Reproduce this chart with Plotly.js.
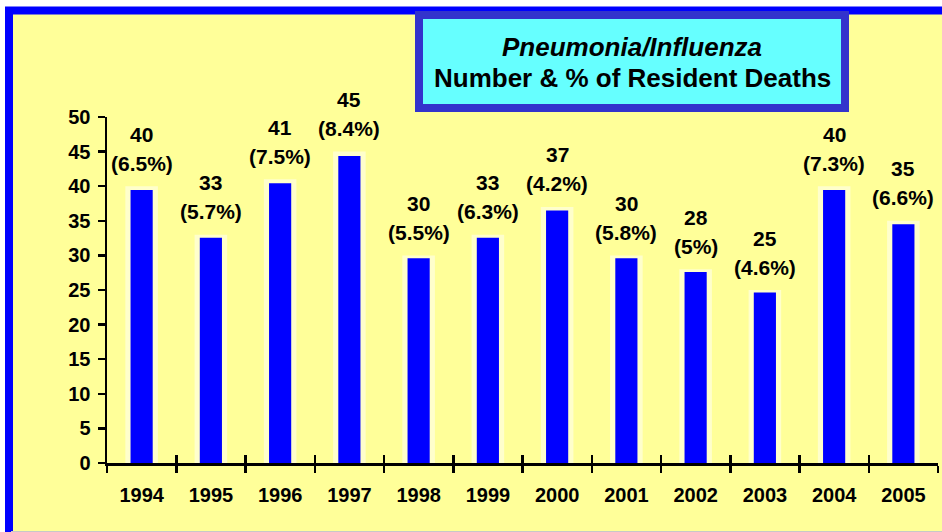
<!DOCTYPE html>
<html>
<head>
<meta charset="utf-8">
<script src="https://cdn.plot.ly/plotly-3.0.1.min.js"></script>
<style>html,body{margin:0;padding:0;background:#fff;}#chart{width:942px;height:532px;}</style>
</head>
<body>
<div id="chart"></div>
<script>
const years = ['1994','1995','1996','1997','1998','1999','2000','2001','2002','2003','2004','2005'];
const deaths = [40, 33, 41, 45, 30, 33, 37, 30, 28, 25, 40, 35];
const pctOfDeaths = [6.5, 5.7, 7.5, 8.4, 5.5, 6.3, 4.2, 5.8, 5, 4.6, 7.3, 6.6];
const yTicks = [0, 5, 10, 15, 20, 25, 30, 35, 40, 45, 50];
const titleLines = ['Pneumonia/Influenza', 'Number & % of Resident Deaths'];

const FONT = 'Liberation Sans, Arial, sans-serif';
const BLUE = '#0000FF';
const YELLOW = '#FFFF99';
const HALO = '#FFFFCC';

const halo = {
  type: 'bar', x: years, y: deaths, xaxis: 'x', yaxis: 'y',
  width: 0.47, marker: {color: HALO, line: {width: 0}}, hoverinfo: 'skip'
};
const bars = {
  type: 'bar', x: years, y: deaths, xaxis: 'x2', yaxis: 'y2',
  width: 0.32, marker: {color: BLUE, line: {width: 0}}, hoverinfo: 'skip'
};

const annotations = [];
years.forEach((yr, i) => {
  annotations.push({
    x: i, y: deaths[i], xref: 'x', yref: 'y', xanchor: 'center', yanchor: 'middle', yshift: 52,
    text: String(deaths[i]), showarrow: false,
    font: {family: FONT, size: 21, color: '#000', weight: 700}
  });
  annotations.push({
    x: i, y: deaths[i], xref: 'x', yref: 'y', xanchor: 'center', yanchor: 'middle', yshift: 23,
    text: '(' + pctOfDeaths[i] + '%)', showarrow: false,
    font: {family: FONT, size: 21, color: '#000', weight: 700}
  });
});
annotations.push({
  x: 0.6318, y: 1.2023, xref: 'paper', yref: 'paper', xanchor: 'center', yanchor: 'middle',
  text: '<i>' + titleLines[0] + '</i>', showarrow: false,
  font: {family: FONT, size: 26, color: '#000', weight: 700}
});
annotations.push({
  x: 0.6318, y: 1.1127, xref: 'paper', yref: 'paper', xanchor: 'center', yanchor: 'middle',
  text: titleLines[1], showarrow: false,
  font: {family: FONT, size: 26, color: '#000', weight: 700}
});

const tickFont = {family: FONT, size: 20, color: '#000', weight: 700};

const layout = {
  width: 942, height: 532,
  margin: {l: 107, r: 4, t: 117, b: 69, pad: 0},
  paper_bgcolor: '#FFFFFF',
  plot_bgcolor: 'rgba(0,0,0,0)',
  showlegend: false,
  font: {family: FONT, color: '#000'},
  xaxis: {
    type: 'category', categoryorder: 'array', categoryarray: years, range: [-0.5, 11.5],
    showline: true, linecolor: '#000', linewidth: 2.5,
    ticks: 'outside', ticklen: 7, tickwidth: 2.5, tickcolor: '#000', tickson: 'boundaries',
    ticklabelstandoff: 12,
    tickfont: tickFont, showgrid: false, zeroline: false, fixedrange: true
  },
  yaxis: {
    range: [0, 50], tickvals: yTicks, ticktext: yTicks.map(String),
    showline: true, linecolor: '#000', linewidth: 2.5,
    ticks: 'outside', ticklen: 7, tickwidth: 2.5, tickcolor: '#000',
    ticklabelstandoff: 3,
    tickfont: tickFont, showgrid: false, zeroline: false, fixedrange: true
  },
  xaxis2: {
    overlaying: 'x', anchor: 'y2', type: 'category', categoryorder: 'array', categoryarray: years,
    range: [-0.5, 11.5], ticks: 'inside', ticklen: 8, tickwidth: 2.5, tickcolor: '#000',
    tickson: 'boundaries', showticklabels: false, showline: false, showgrid: false, zeroline: false, fixedrange: true
  },
  yaxis2: {
    overlaying: 'y', anchor: 'x2', range: [0, 50.7], visible: false, fixedrange: true
  },
  yaxis3: {
    overlaying: 'y', anchor: 'x', range: [0, 50], tickvals: yTicks,
    ticks: 'inside', ticklen: 8, tickwidth: 2.5, tickcolor: '#000',
    showticklabels: false, showline: false, showgrid: false, zeroline: false, fixedrange: true
  },
  shapes: [
    {type: 'rect', layer: 'below', xref: 'paper', yref: 'paper',
     xsizemode: 'pixel', ysizemode: 'pixel', xanchor: 0, yanchor: 0,
     x0: -98, x1: 853, y0: -90, y1: 452.5,
     fillcolor: YELLOW, line: {color: BLUE, width: 8}},
    {type: 'line', layer: 'below', xref: 'paper', yref: 'paper',
     xsizemode: 'pixel', ysizemode: 'pixel', xanchor: 0, yanchor: 0,
     x0: -96, x1: 840, y0: -68.5, y1: -68.5,
     line: {color: '#C8C8C8', width: 1}},
    {type: 'rect', layer: 'above', xref: 'paper', yref: 'paper',
     xsizemode: 'pixel', ysizemode: 'pixel', xanchor: 0, yanchor: 0,
     x0: 312, x1: 738, y0: 355, y1: 448,
     fillcolor: '#66FFFF', line: {color: '#3333CC', width: 8}}
  ],
  annotations: annotations
};

Plotly.newPlot('chart', [halo, bars], layout, {staticPlot: true, displayModeBar: false});
</script>
</body>
</html>
